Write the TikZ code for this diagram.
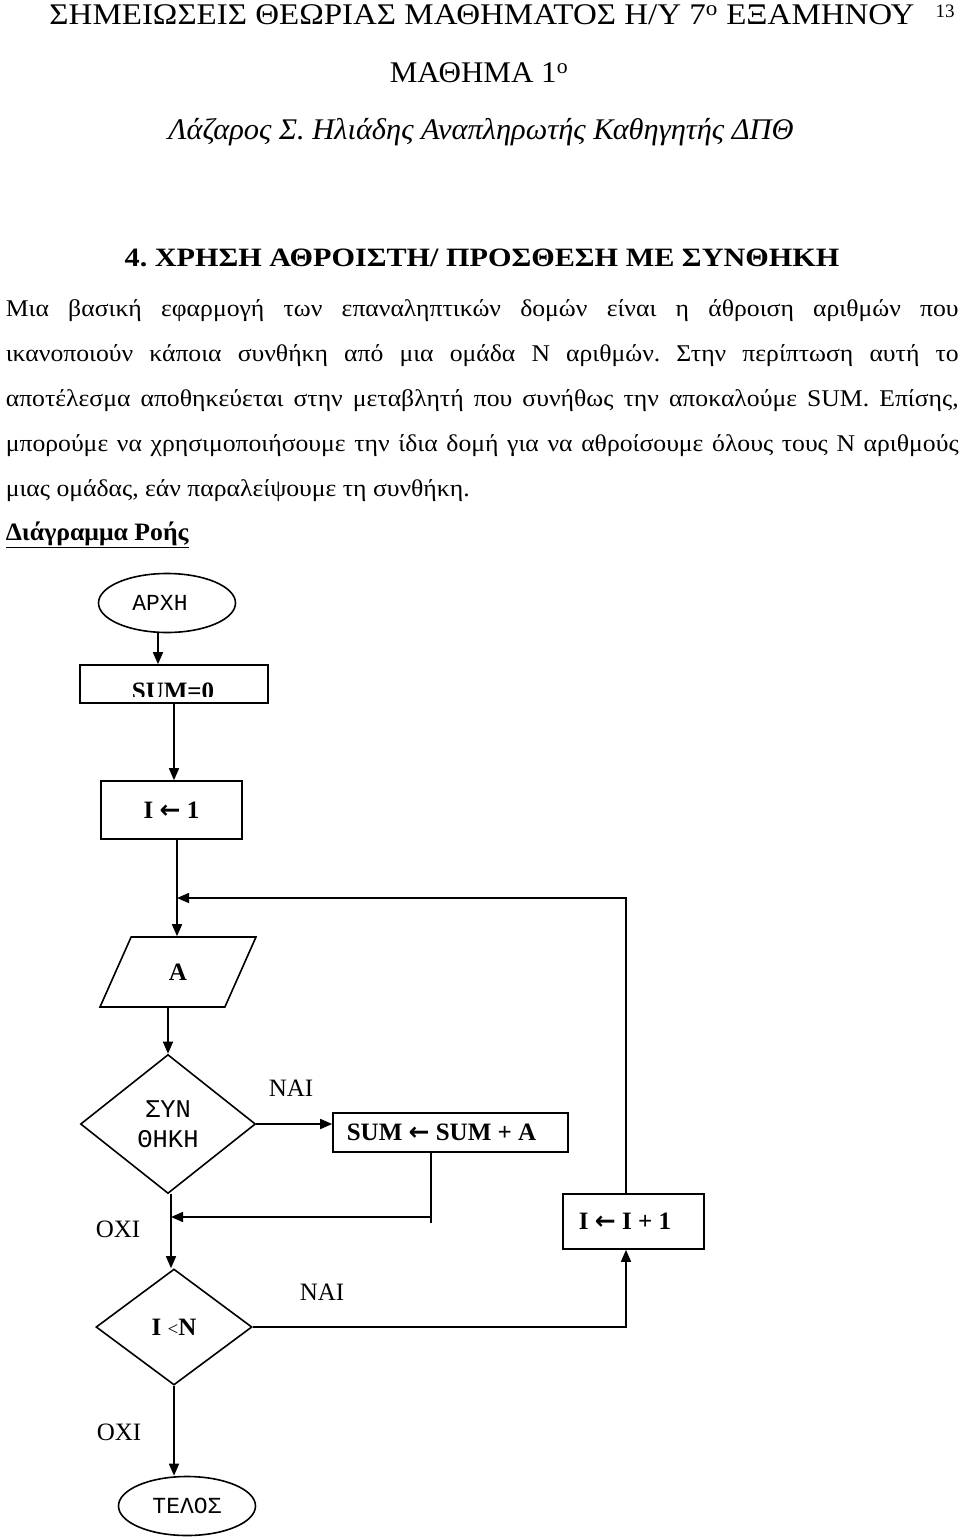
\documentclass[tikz,border=0pt]{standalone}
\usepackage{fontspec}
\usepackage{graphicx}
\setmainfont{Liberation Serif}
\setmonofont{Liberation Mono}
\newfontfamily\arrowfont{DejaVu Sans}
\usetikzlibrary{positioning, arrows.meta, shapes.geometric}
\frenchspacing
\newcommand{\fsize}[2]{\fontsize{#1}{#2}\selectfont}
\newcommand{\widen}[2]{\scalebox{#1}[1]{#2}}
\newcommand{\getsarrow}{{\arrowfont\bfseries ←}}
\newcommand{\parline}[1]{\widen{1.07}{\makebox[890.6pt][s]{#1}}}

\begin{document}
\begin{tikzpicture}[
    x=1pt, y=-1pt,
    line width=1.6pt,
    process/.style={
        rectangle,
        draw,
        inner sep=0pt,
        font=\fsize{25}{25}\bfseries
    },
    terminal/.style={
        ellipse,
        draw,
        inner sep=0pt,
        minimum width=137pt,
        minimum height=59pt,
        font=\ttfamily\fsize{23}{23}
    },
    decision/.style={
        diamond,
        draw,
        aspect=1,
        inner sep=0pt,
        align=center
    },
    io/.style={
        trapezium,
        draw,
        trapezium left angle=66,
        trapezium right angle=114,
        trapezium stretches body,
        inner xsep=0pt,
        inner ysep=26.7pt,% the slant follows the natural height
        minimum width=156pt,
        minimum height=70pt,
        font=\fsize{25}{25}\bfseries
    },
    answer/.style={font=\fsize{25}{25}},
    >={Triangle[length=12pt,width=10pt]}
]
    \path[use as bounding box, fill=white] (0,0) rectangle (960,1538);

    % --- page header ---
    \node[anchor=base, font=\fsize{30}{30}] (header) at (482,25)
        {\widen{1.1}{ΣΗΜΕΙΩΣΕΙΣ ΘΕΩΡΙΑΣ ΜΑΘΗΜΑΤΟΣ Η/Υ 7\textsuperscript{ο} ΕΞΑΜΗΝΟΥ}};
    \node[anchor=base, font=\fsize{19}{19}] (pagenum) at (945,18) {13};
    \node[anchor=base, font=\fsize{30}{30}] (lesson) at (479,83)
        {\widen{1.035}{ΜΑΘΗΜΑ 1\textsuperscript{ο}}};
    \node[anchor=base, font=\fsize{30}{30}\itshape] (author) at (481,140)
        {\widen{1.015}{Λάζαρος Σ. Ηλιάδης Αναπληρωτής Καθηγητής ΔΠΘ}};

    % --- section text ---
    \node[anchor=base, font=\fsize{26.5}{26.5}\bfseries] (title) at (482,266)
        {\widen{1.14}{4. ΧΡΗΣΗ ΑΘΡΟΙΣΤΗ/ ΠΡΟΣΘΕΣΗ ΜΕ ΣΥΝΘΗΚΗ}};
    \node[anchor=base west, inner sep=0pt, font=\fsize{24}{24}] (line1) at (5,316)
        {\parline{Μια βασική εφαρμογή των επαναληπτικών δομών είναι η άθροιση αριθμών που}};
    \node[anchor=base west, inner sep=0pt, font=\fsize{24}{24}] (line2) at (5,361)
        {\parline{ικανοποιούν κάποια συνθήκη από μια ομάδα Ν αριθμών. Στην περίπτωση αυτή το}};
    \node[anchor=base west, inner sep=0pt, font=\fsize{24}{24}] (line3) at (5,406)
        {\parline{αποτέλεσμα αποθηκεύεται στην μεταβλητή που συνήθως την αποκαλούμε SUM. Επίσης,}};
    \node[anchor=base west, inner sep=0pt, font=\fsize{24}{24}] (line4) at (5,451)
        {\parline{μπορούμε να χρησιμοποιήσουμε την ίδια δομή για να αθροίσουμε όλους τους Ν αριθμούς}};
    \node[anchor=base west, inner sep=0pt, font=\fsize{24}{24}] (line5) at (5,496)
        {\widen{1.07}{μιας ομάδας, εάν παραλείψουμε τη συνθήκη.}};
    \node[anchor=base west, inner sep=0pt, font=\fsize{25}{25}\bfseries] (flowhead) at (5,540)
        {\widen{1.03}{\underline{Διάγραμμα Ροής}}};

    % --- flowchart nodes ---
    \node[terminal] (start) at (167,603) {ΑΡΧΗ\hspace{14pt}\mbox{}};
    \node[process, minimum width=188pt, minimum height=38pt] (sum0) at (174,684) {};
    \begin{scope}
        \clip (sum0.north west) rectangle ([yshift=7pt]sum0.south east);
        \node[anchor=base, font=\fsize{25}{25}\bfseries] (sum0txt) at (173,699) {SUM=0};
    \end{scope}
    \node[process, minimum width=141pt, minimum height=58pt] (init) at (171.5,810) {I \getsarrow{} 1};
    \node[io] (readA) at (178,972) {A};
    \node[decision, minimum width=175pt, minimum height=139pt,
          font=\ttfamily\fsize{25.5}{30}] (cond) at (168,1124) {ΣΥΝ\\ΘΗΚΗ};
    \node[process, minimum width=235pt, minimum height=39pt] (add) at (450.5,1132.5)
        {SUM \getsarrow{} SUM + A\hspace{18pt}\mbox{}};
    \node[process, minimum width=141pt, minimum height=55pt] (incr) at (633.5,1221.5)
        {I \getsarrow{} I + 1\hspace{17pt}\mbox{}};
    \node[decision, minimum width=156pt, minimum height=116pt,
          font=\fsize{25}{25}] (test) at (174,1327)
        {\textbf{I} {\fsize{19}{19}<}\textbf{N}};
    \node[terminal] (stop) at (187,1506) {ΤΕΛΟΣ};

    % --- branch labels ---
    \node[answer] (yes1) at (291,1088) {ΝΑΙ};
    \node[answer] (no1) at (118,1229) {ΟΧΙ};
    \node[answer] (yes2) at (322,1292) {ΝΑΙ};
    \node[answer] (no2) at (119,1432) {ΟΧΙ};

    % --- connectors ---
    \coordinate (back)  at (177,898);
    \coordinate (merge) at (171,1217);

    \draw[->] ([xshift=-9pt]start.south) -- ([xshift=-9pt]start.south |- sum0.north);
    \draw[->] (sum0.south) -- (sum0.south |- init.north);
    \draw[->] ([xshift=5.5pt]init.south) -- ([xshift=5.5pt]init.south |- readA.north);
    \draw[->] ([xshift=-10pt]readA.south) -- (cond.north);
    \draw[->] (cond.east) -- (cond.east -| add.west);

    % back from the addition
    \draw ([xshift=-19.5pt]add.south) -- ++(0,70);
    \draw[->] ([xshift=-19.5pt]add.south |- merge) -- (merge);
    \draw[->] ([xshift=3pt]cond.south) -- ([xshift=-3pt]test.north);

    % loop round
    \draw[->] (test.east) -| ([xshift=-7.5pt]incr.south);
    \draw[->] ([xshift=-7.5pt]incr.north) |- (back);
    \draw[->] (test.south) -- (test.south |- stop.north);

\end{tikzpicture}
\end{document}
